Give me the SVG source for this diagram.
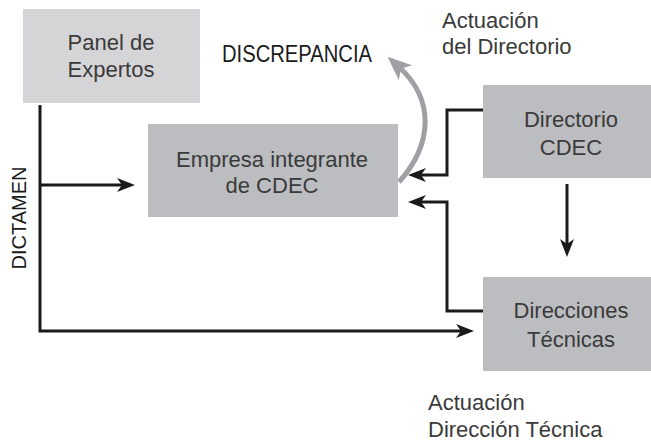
<svg xmlns="http://www.w3.org/2000/svg" width="651" height="441" viewBox="0 0 651 441">
<style>
.box{fill:#bcbdc0}
.light{fill:#d5d5d7}
.lbl{font-family:"Liberation Sans",Arial,sans-serif;font-size:22px;fill:#3a3a3a;text-anchor:middle}
.note{font-family:"Liberation Sans",Arial,sans-serif;font-size:22px;fill:#3a3a3a}
.cap{font-family:"Liberation Sans",Arial,sans-serif;fill:#1a1a1a}
.ln{fill:none;stroke:#1a1a1a;stroke-width:3;marker-end:url(#ah)}
</style>
<defs>
<marker id="ah" markerUnits="userSpaceOnUse" markerWidth="18" markerHeight="14" refX="10" refY="7" orient="auto">
<path d="M0,0 L18,7 L0,14 L5,7 Z" fill="#1a1a1a"/>
</marker>
<marker id="gh" markerUnits="userSpaceOnUse" markerWidth="24" markerHeight="20" refX="10" refY="10" orient="auto">
<path d="M0,0 L24,10 L0,20 L6,10 Z" fill="#a0a0a4"/>
</marker>
</defs>
<g id="connectors">
<path class="ln" d="M40,105 V331 H466"/>
<path class="ln" d="M40,185 H127"/>
<path class="ln" d="M483,110 H447 V175 H416"/>
<path class="ln" d="M483,311 H447 V202 H416"/>
<path class="ln" d="M567,184 V249"/>
<path d="M399,182 C432,145 436,100 398,66" fill="none" stroke="#a0a0a4" stroke-width="5" marker-end="url(#gh)"/>
</g>
<g id="panel">
<rect class="light" x="23" y="9" width="177" height="94"/>
<text class="lbl" x="111" y="50">Panel de</text>
<text class="lbl" x="111" y="77">Expertos</text>
</g>
<g id="empresa">
<rect class="box" x="148" y="124" width="250" height="93"/>
<text class="lbl" x="272" y="167">Empresa integrante</text>
<text class="lbl" x="272" y="193">de CDEC</text>
</g>
<g id="directorio">
<rect class="box" x="483" y="85" width="168" height="93"/>
<text class="lbl" x="571" y="127">Directorio</text>
<text class="lbl" x="571" y="155">CDEC</text>
</g>
<g id="direcciones">
<rect class="box" x="483" y="277" width="168" height="94"/>
<text class="lbl" x="571" y="318">Direcciones</text>
<text class="lbl" x="571" y="347">Técnicas</text>
</g>
<g id="labels">
<text class="cap" x="222" y="62" font-size="23" textLength="150" lengthAdjust="spacingAndGlyphs">DISCREPANCIA</text>
<text class="cap" font-size="20" transform="translate(26,218) rotate(-90)" text-anchor="middle">DICTAMEN</text>
<text class="note" x="442" y="28">Actuación</text>
<text class="note" x="442" y="54">del Directorio</text>
<text class="note" x="428" y="410">Actuación</text>
<text class="note" x="428" y="437">Dirección Técnica</text>
</g>
</svg>
